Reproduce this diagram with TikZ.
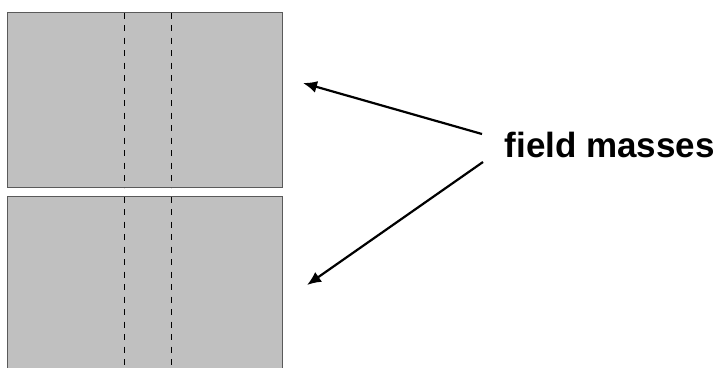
\documentclass[tikz,border=0pt]{standalone}
\usepackage{fontspec}
\setmainfont{Liberation Sans}
\usetikzlibrary{arrows.meta}
\definecolor{massfill}{RGB}{192,192,192}
\definecolor{massedge}{RGB}{90,90,90}
\tikzset{
  mass/.style={draw=massedge, fill=massfill, line width=1pt},
  cut/.style={draw=black, line width=0.8pt, dash pattern=on 6pt off 6.5pt},
  pointer/.style={draw=black, line width=2.2pt, -{Latex[length=14pt,width=12pt]}},
  lbl/.style={font=\bfseries\fontsize{35}{40}\selectfont, inner sep=0pt, anchor=base west}
}
\begin{document}
\begin{tikzpicture}[x=1pt,y=-1pt]
\useasboundingbox (0,0) rectangle (722,367);
\clip (0,0) rectangle (722,367);
\fill[white] (0,0) rectangle (722,367);
% top field mass
\draw[mass] (7.3,12.7) rectangle (282,187.7);
\coordinate (t1) at (124.3,12.7);
\coordinate (b1) at (124.3,187.7);
\coordinate (t2) at (171,12.7);
\coordinate (b2) at (171,187.7);
\draw[cut] (t1) -- (b1);
\draw[cut] (t2) -- (b2);
% bottom field mass
\draw[mass] (7.3,196.7) rectangle (282,380);
\coordinate (t3) at (124.3,196.7);
\coordinate (b3) at (124.3,370);
\coordinate (t4) at (171,196.7);
\coordinate (b4) at (171,370);
\draw[cut] (t3) -- (b3);
\draw[cut] (t4) -- (b4);
% label and pointers
\node[lbl] (label) at (504.5,157) {field masses};
\coordinate (s1) at (482,134);
\coordinate (e1) at (303,83);
\coordinate (s2) at (483,162);
\coordinate (e2) at (307,285);
\draw[pointer] (s1) -- (e1);
\draw[pointer] (s2) -- (e2);
\end{tikzpicture}
\end{document}
